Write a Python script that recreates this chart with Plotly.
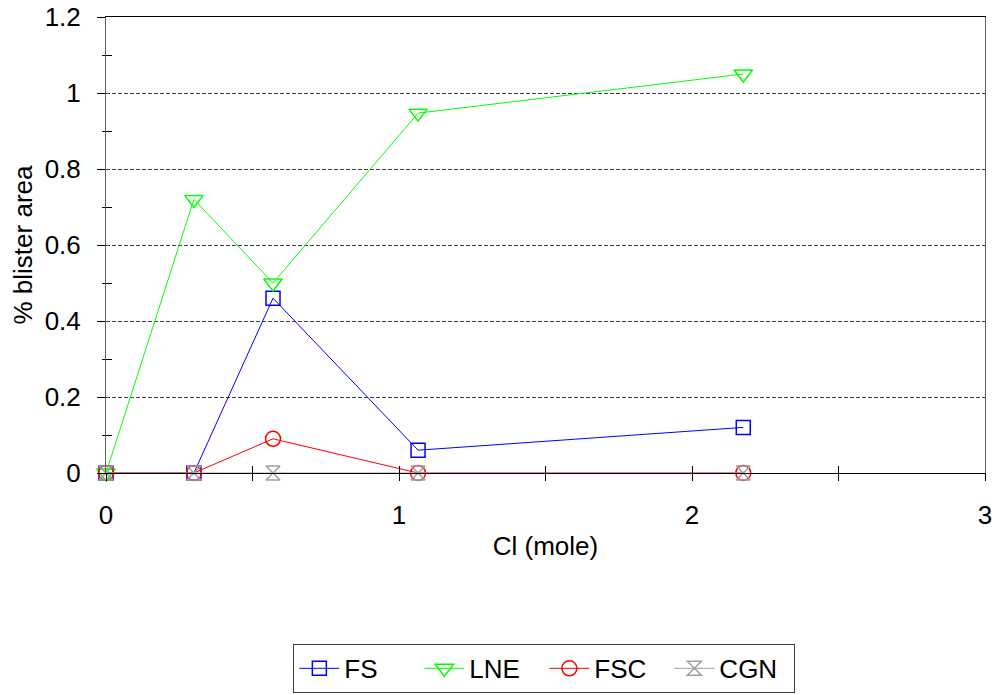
import plotly.graph_objects as go

cl_mole = [0.0, 0.30, 0.57, 1.065, 2.175]
fs = [0.0, 0.0, 0.46, 0.06, 0.12]
lne = [0.0, 0.72, 0.50, 0.947, 1.05]
fsc = [0.0, 0.0, 0.09, 0.0, 0.0]
cgn = [0.0, 0.0, 0.0, 0.0, 0.0]

series = [
    ("FS", fs, "#0000FF", "square-open", 14),
    ("LNE", lne, "#00FF00", "triangle-down-open", 16),
    ("FSC", fsc, "#FF0000", "circle-open", 15),
    ("CGN", cgn, "#A0A0A0", "hourglass-open", 14),
]

fig = go.Figure()
for name, vals, color, sym, size in series:
    fig.add_trace(go.Scatter(
        x=cl_mole, y=vals, name=name, mode="lines+markers",
        line=dict(color=color, width=1),
        marker=dict(symbol=sym, size=size, color=color, line=dict(width=1.5, color=color)),
        cliponaxis=False,
    ))

# invisible helper trace so the overlay axes render
fig.add_trace(go.Scatter(x=[], y=[], xaxis="x2", yaxis="y2", showlegend=False))

font = "Liberation Sans, Arial, sans-serif"
FS = 26
fig.update_layout(
    width=997, height=695,
    margin=dict(l=106, r=12, t=17, b=222, autoexpand=False),
    paper_bgcolor="white", plot_bgcolor="white",
    font=dict(family=font, size=FS, color="black"),
    showlegend=True,
    legend=dict(
        orientation="h", xref="container", yref="container",
        x=0.546, xanchor="center", y=0.0735, yanchor="top",
        bordercolor="#404040", borderwidth=1, font=dict(size=FS),
        itemwidth=40, entrywidth=70, tracegroupgap=0,
    ),
    xaxis=dict(
        range=[0, 3], tickvals=[0, 1, 2, 3], ticktext=["0", "1", "2", "3"],
        ticks="outside", ticklen=7, tickcolor="black", ticklabelstandoff=12,
        minor=dict(tickvals=[0.5, 1.5, 2.5], ticks="outside", ticklen=7, tickcolor="black"),
        showline=True, linecolor="black", linewidth=1, mirror=True,
        showgrid=False, zeroline=False, automargin=False,
        title=dict(text="Cl (mole)", font=dict(size=FS), standoff=7),
    ),
    xaxis2=dict(
        range=[0, 3], overlaying="x", anchor="y", side="bottom",
        tickvals=[0, 0.5, 1, 1.5, 2, 2.5, 3], ticks="inside", ticklen=7, tickcolor="black",
        showticklabels=False, showline=False, showgrid=False, zeroline=False, automargin=False,
    ),
    yaxis=dict(
        range=[0, 1.2], tickvals=[0, 0.2, 0.4, 0.6, 0.8, 1.0, 1.2],
        ticktext=["0", "0.2", "0.4", "0.6", "0.8", "1", "1.2"],
        ticks="outside", ticklen=8, tickcolor="black", ticklabelstandoff=11,
        minor=dict(tickvals=[0.1, 0.3, 0.5, 0.7, 0.9, 1.1], ticks="outside", ticklen=3, tickcolor="black"),
        showline=True, linecolor="#606060", linewidth=1, mirror=True,
        showgrid=True, gridcolor="#404040", griddash="4px,2px", gridwidth=1,
        zeroline=False, automargin=False,
        title=dict(text="% blister area", font=dict(size=FS), standoff=4),
    ),
    yaxis2=dict(
        range=[0, 1.2], overlaying="y", anchor="x", side="left",
        tickvals=[0.1, 0.3, 0.5, 0.7, 0.9, 1.1], ticks="inside", ticklen=6, tickcolor="black",
        showticklabels=False, showline=False, showgrid=False, zeroline=False, automargin=False,
    ),
)

fig.write_html("out.html", config={"displayModeBar": False},
               post_script="document.body.style.margin='0';")
